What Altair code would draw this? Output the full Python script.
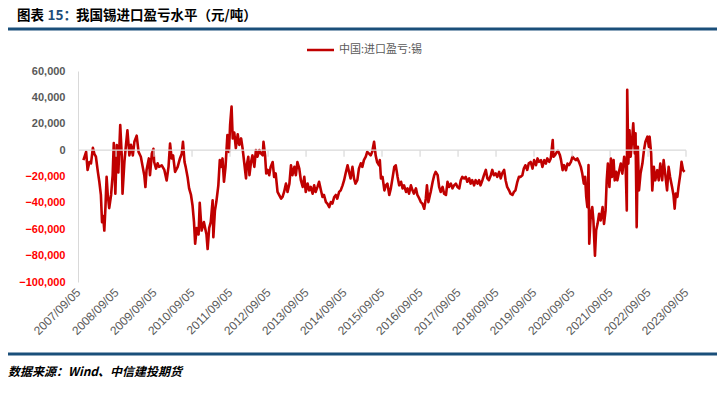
import altair as alt
import pandas as pd

years = [
2007.82,2007.89,2007.93,2007.98,2008.02,2008.07,2008.11,2008.15,2008.20,2008.24,2008.28,2008.31,2008.34,2008.37,2008.40,2008.43,2008.46,2008.50,2008.55,2008.59,2008.62,2008.66,2008.70,2008.74,2008.79,2008.83,2008.85,2008.90,2008.94,2008.98,
2009.03,2009.07,2009.12,2009.16,2009.22,2009.27,2009.33,2009.38,2009.42,2009.45,2009.48,2009.54,2009.57,2009.62,2009.66,2009.68,2009.73,2009.77,2009.81,2009.88,2009.95,
2010.01,2010.06,2010.10,2010.14,2010.18,2010.23,2010.30,2010.36,2010.41,2010.44,2010.48,2010.51,2010.56,2010.60,2010.65,2010.69,2010.73,2010.76,2010.80,2010.85,2010.88,2010.93,2010.99,
2011.06,2011.09,2011.13,2011.17,2011.22,2011.24,2011.28,2011.32,2011.37,2011.41,2011.44,2011.48,2011.52,2011.56,2011.61,2011.65,2011.68,2011.72,2011.75,2011.79,2011.83,2011.88,2011.92,2011.97,
2012.01,2012.05,2012.10,2012.12,2012.16,2012.19,2012.23,2012.27,2012.32,2012.36,2012.40,2012.45,2012.49,2012.54,2012.56,2012.60,2012.63,2012.67,2012.71,2012.75,2012.80,2012.84,2012.88,2012.93,2012.97,
2013.02,2013.06,2013.10,2013.15,2013.19,2013.24,2013.28,2013.32,2013.37,2013.41,2013.45,2013.50,2013.54,2013.59,2013.63,2013.67,2013.72,2013.76,2013.80,2013.85,2013.89,2013.93,2013.98,
2014.02,2014.07,2014.11,2014.15,2014.20,2014.24,2014.29,2014.33,2014.37,2014.42,2014.46,2014.50,2014.55,2014.59,2014.64,2014.68,2014.72,2014.77,2014.81,2014.85,2014.90,2014.94,2014.98,
2015.03,2015.07,2015.12,2015.16,2015.20,2015.25,2015.29,2015.33,2015.38,2015.42,2015.47,2015.51,2015.55,2015.60,2015.62,2015.65,2015.69,2015.74,2015.78,2015.82,2015.87,2015.91,2015.96,
2016.00,2016.04,2016.09,2016.13,2016.18,2016.22,2016.26,2016.31,2016.35,2016.39,2016.44,2016.48,2016.52,2016.57,2016.61,2016.66,2016.70,2016.74,2016.79,2016.83,2016.86,2016.90,2016.94,2016.96,
2017.01,2017.05,2017.09,2017.14,2017.18,2017.22,2017.27,2017.31,2017.36,2017.40,2017.44,2017.49,2017.53,2017.57,2017.62,2017.66,2017.71,2017.75,2017.79,2017.84,2017.88,2017.92,2017.97,
2018.01,2018.05,2018.10,2018.14,2018.19,2018.23,2018.27,2018.32,2018.36,2018.41,2018.45,2018.49,2018.54,2018.58,2018.62,2018.67,2018.71,2018.76,2018.80,2018.84,2018.89,2018.93,2018.97,
2019.02,2019.06,2019.11,2019.15,2019.19,2019.24,2019.28,2019.32,2019.37,2019.41,2019.45,2019.50,2019.54,2019.59,2019.64,2019.68,2019.73,2019.77,2019.81,2019.86,2019.90,2019.95,2019.99,
2020.03,2020.08,2020.12,2020.17,2020.19,2020.23,2020.28,2020.31,2020.36,2020.39,2020.43,2020.47,2020.52,2020.56,2020.60,2020.65,2020.69,2020.73,2020.78,2020.82,2020.86,2020.91,2020.95,2020.99,
2021.02,2021.05,2021.08,2021.11,2021.13,2021.17,2021.21,2021.24,2021.28,2021.31,2021.35,2021.39,2021.43,2021.48,2021.52,2021.56,2021.59,2021.62,2021.66,2021.70,2021.73,2021.77,2021.80,2021.84,2021.87,2021.92,2021.96,
2022.00,2022.05,2022.09,2022.12,2022.13,2022.16,2022.19,2022.22,2022.26,2022.29,2022.33,2022.35,2022.38,2022.41,2022.44,2022.48,2022.53,2022.57,2022.61,2022.66,2022.70,2022.72,2022.76,2022.79,2022.83,2022.87,2022.92,2022.96,
2023.00,2023.05,2023.09,2023.13,2023.18,2023.22,2023.26,2023.31,2023.35,2023.38,2023.41,2023.45,2023.48,2023.53,2023.56,2023.60,2023.64,
]

values = [
-7600,-1300,-15000,-9000,-10000,1700,-3000,-5000,-16500,-24000,-34000,-54600,-50000,-61000,-43000,-20300,-34000,-44000,-34000,-19000,5300,-33000,3800,-17000,19000,-5000,-33000,-9000,3800,15000,
-4000,4000,-4000,6300,11000,-1300,-5000,-12700,-19000,-28000,-15000,-6300,-19000,-2500,1000,-9000,-14000,-10000,-12700,-11500,-15000,
-23000,-12700,5000,-6300,-4000,-16500,-12700,-6300,-2500,6300,-9000,-12700,-20300,-29000,-34000,-42000,-54600,-71000,-59000,-64000,-40000,-61000,-54600,
-64000,-75000,-59000,-54600,-38000,-66000,-46000,-39000,-26700,-7600,-12700,-6300,-24000,-12700,11400,-1300,19000,33000,8900,13300,1500,12000,4000,8900,
1300,-9000,-21500,-11500,-5000,-19000,-9000,-4000,-12700,0,-5000,0,-2500,-4000,6300,-4000,-17700,-15000,-19000,-12700,-9000,-20300,-17700,-31700,-34000,
-36800,-35500,-31700,-25400,-31700,-25400,-11500,-19000,-12700,-19000,-9000,-14000,-22800,-27900,-20300,-31700,-25400,-30500,-27900,-33000,-26700,-31700,-27900,
-24000,-30500,-35500,-34000,-39400,-40600,-43200,-39400,-40600,-35500,-34000,-36800,-31700,-30500,-26700,-22800,-17700,-11500,-16500,-21500,-12700,-21500,-25400,
-22800,-14000,-10000,-12700,-7600,-5000,-1300,-2500,-4000,-1300,6300,-4000,-9000,-11500,-7600,-21500,-20300,-30500,-26700,-25400,-34000,-29000,-20300,
-12700,-11500,-20300,-26700,-24000,-29000,-26700,-31700,-29000,-33000,-26700,-30500,-33000,-29000,-34000,-36800,-39400,-40600,-44400,-36800,-26700,-39400,-34000,-31700,
-24000,-19000,-16500,-19000,-27900,-31700,-27900,-33000,-34000,-24000,-27900,-25400,-29000,-26700,-25400,-27900,-29000,-22800,-20300,-21500,-20300,-24000,-21500,
-25400,-22800,-26700,-22800,-25400,-22800,-26700,-22800,-19000,-15000,-21500,-22800,-19000,-15000,-19000,-17700,-20300,-16500,-21500,-17700,-15000,-22800,-27900,
-30500,-33000,-34000,-31700,-30500,-24000,-20300,-20300,-19000,-14000,-11500,-15000,-10000,-9000,-14000,-7600,-11400,-6300,-8900,-7600,-12700,-7600,-10200,
-6300,-8900,-6300,7600,-5000,-3800,-1300,-500,-3800,-7600,-15200,-11400,-15200,-10200,-11400,-8900,-5000,-6300,-7600,-6300,-8900,-12700,-17800,-25400,
-20300,-35500,-43200,-11400,-71000,-48300,-43200,-53300,-80000,-61000,-55900,-48300,-53300,-43200,-55900,-45700,-22900,-10200,-27900,-6300,-20300,-7600,-22900,-16500,-22900,-15200,-10200,
-17800,-5000,-12700,-45700,45700,-10200,15000,-5000,7600,20300,-2500,12700,-58400,2500,-30500,-17800,-10200,0,6300,10200,2500,10200,-2500,-30500,-12700,-22900,-15200,-22900,
-10200,-22900,-7600,-17800,-30500,-12700,-20300,-27900,-34300,-44400,-33000,-35500,-27900,-17800,-8900,-15200,-16500,
]

tick_years = list(range(2007, 2024))
y_ticks = list(range(-100000, 60001, 20000))
series_name = "中国:进口盈亏:锡"
title_parts = ["图表", "15：", "我国锡进口盈亏水平（元/吨）"]
source_text = "数据来源：Wind、中信建投期货"

RED = "#c00000"
NAVY = "#1f4e79"
GRAY = "#595959"
LIGHT = "#d9d9d9"
BLUE_RULE = "#1a4f7a"


def to_date(t):
    y = int(t)
    d = pd.Timestamp(year=y, month=1, day=1) + pd.Timedelta(days=(t - y) * 365.25)
    return d.strftime("%Y-%m-%d")


df = pd.DataFrame({"date": [to_date(t) for t in years], "value": values})
tick_df = pd.DataFrame({"date": [f"{y}-09-05" for y in tick_years[1:]]})

W, H = 608, 211

x_scale = alt.Scale(
    type="utc",
    domain=[alt.DateTime(year=2007, month=9, date=5, utc=True),
            alt.DateTime(year=2023, month=9, date=5, utc=True)],
)
y_scale = alt.Scale(domain=[-100000, 60000], nice=False, zero=False)

x_axis = alt.Axis(
    values=[alt.DateTime(year=y, month=9, date=5, utc=True) for y in tick_years],
    format="%Y/%m/%d",
    labelAngle=-45,
    labelAlign="right",
    labelBaseline="middle",
    labelFont="Liberation Sans",
    labelFontSize=12,
    labelColor=GRAY,
    labelPadding=8,
    labelOverlap=False,
    domain=False,
    ticks=False,
    grid=False,
    title=None,
)
y_axis = alt.Axis(
    values=y_ticks,
    format=",.0f",
    title=None,
    grid=False,
    ticks=False,
    domainColor=LIGHT,
    labelOverlap=False,
    labelColor=alt.expr("datum.value < 0 ? '#ff0000' : '#595959'"),
    labelFont="Liberation Sans",
    labelFontSize=11,
    labelFontWeight="bold",
    labelPadding=13,
)

line = alt.Chart(df).mark_line(color=RED, strokeWidth=2.6, strokeJoin="round").encode(
    x=alt.X("date:T", scale=x_scale, axis=x_axis),
    y=alt.Y("value:Q", scale=y_scale, axis=y_axis),
)

one = alt.Data(values=[{}])

zero = alt.Chart(one).mark_rule(color=LIGHT, strokeWidth=1.2).encode(
    y=alt.YDatum(0, scale=y_scale, axis=y_axis), x=alt.value(0), x2=alt.value(W)
)
xticks = alt.Chart(tick_df).mark_rule(color=LIGHT, strokeWidth=1.2).encode(
    x=alt.X("date:T", scale=x_scale, axis=x_axis),
    y=alt.YDatum(0, scale=y_scale, axis=y_axis),
    y2=alt.Y2Datum(-5000),
)


def label(text, x, y, color="black", size=13.5, weight="bold", align="left", font="Noto Sans CJK SC", style="normal"):
    return alt.Chart(one).mark_text(
        text=text, align=align, baseline="middle", fontSize=size, fontWeight=weight,
        font=font, color=color, fontStyle=style,
    ).encode(x=alt.value(x), y=alt.value(y))


def hline(x1, x2, y, color, width):
    return alt.Chart(one).mark_rule(color=color, strokeWidth=width).encode(
        x=alt.value(x1), x2=alt.value(x2), y=alt.value(y)
    )


TY = -55
title1 = label(title_parts[0], -61, TY)
title2 = label(title_parts[1], -30.5, TY, color=NAVY)
title3 = label(title_parts[2], -2, TY)
title_rule = hline(-70, 639, -42, BLUE_RULE, 3)
legend_line = hline(229, 256, -21, RED, 2.5)
legend_text = label(series_name, 261, -21, color=GRAY, size=11, weight="normal")
foot_rule = hline(-70, 639, 283, BLUE_RULE, 3)
foot_text = label(source_text, -70, 301, size=12, style="italic")

chart = alt.layer(
    line, zero, xticks, title1, title2, title3, title_rule, legend_line, legend_text, foot_rule, foot_text
).properties(
    width=W,
    height=H,
    background="white",
    padding={"left": 70, "top": 63, "right": 31, "bottom": 103},
    autosize=alt.AutoSizeParams(type="none"),
).configure_axisX(labelOverlap=False).configure_axisY(labelOverlap=False).configure_view(strokeWidth=0)

chart.save("out.html", embed_options={"renderer": "svg", "actions": False})
